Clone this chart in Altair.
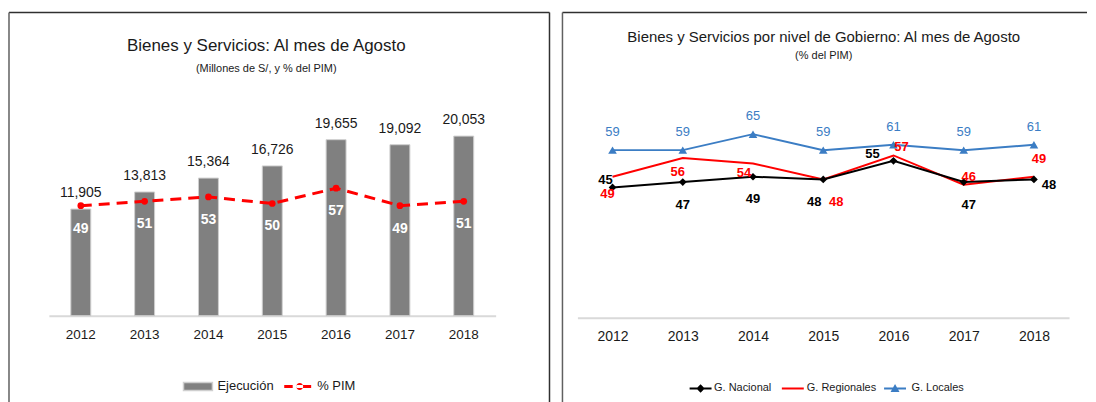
import altair as alt
import pandas as pd

# ---------------- data ----------------
years = ["2012", "2013", "2014", "2015", "2016", "2017", "2018"]
ejecucion = [11905, 13813, 15364, 16726, 19655, 19092, 20053]
pct_pim = [49, 51, 53, 50, 57, 49, 51]

g_nacional = [45, 47, 49, 48, 55, 47, 48]
g_regionales = [49, 56, 54, 48, 57, 46, 49]
g_locales = [59, 59, 65, 59, 61, 59, 61]

left_title = "Bienes y Servicios: Al mes de Agosto"
left_subtitle = "(Millones de S/, y % del PIM)"
right_title = "Bienes y Servicios por nivel de Gobierno: Al mes de Agosto"
right_subtitle = "(% del PIM)"
left_series = ["Ejecución", "% PIM"]
right_series = ["G. Nacional", "G. Regionales", "G. Locales"]

# ---------------- style ----------------
FONT_N = "Liberation Sans Narrow, Arial Narrow, Liberation Sans, sans-serif"
FONT = "Liberation Sans, Arial, sans-serif"
TXT = "#1a1a1a"
FRAME = "#303030"
GRAY = "#808080"
RED = "#ff0000"
BLUE = "#3b7dc4"
BLACK = "#000000"

W1, W2, H = 542, 526, 391

# left panel pixel geometry
L_ZERO, L_PX = 304.0, 0.00898      # bars
P_ZERO, P_PX = 301.0, 2.19         # % PIM
L_AXIS = 304
# right panel pixel geometry
R_ZERO, R_PX = 295.5, 2.67
R_AXIS = 306

dom_ejec = [-(H - L_ZERO) / L_PX, L_ZERO / L_PX]
dom_pim = [-(H - P_ZERO) / P_PX, P_ZERO / P_PX]
dom_r = [-(H - R_ZERO) / R_PX, R_ZERO / R_PX]

df1 = pd.DataFrame({"year": years, "ejec": ejecucion, "pim": pct_pim})
df2 = pd.DataFrame({
    "year": years * 3,
    "serie": [right_series[0]] * 7 + [right_series[1]] * 7 + [right_series[2]] * 7,
    "value": g_nacional + g_regionales + g_locales,
})
frame_df = pd.DataFrame({"k": [0]})


def frame_rules(w, h, right_edge):
    fr = alt.Chart(frame_df)
    parts = [
        fr.mark_rule(color=FRAME, strokeWidth=1.5).encode(
            x=alt.value(0), x2=alt.value(w), y=alt.value(0)),
        fr.mark_rule(color="#606060", strokeWidth=1.5).encode(
            x=alt.value(0), y=alt.value(0), y2=alt.value(h)),
    ]
    if right_edge:
        parts.append(fr.mark_rule(color=FRAME, strokeWidth=1.5).encode(
            x=alt.value(w), y=alt.value(0), y2=alt.value(h)))
    return parts


def xenc(rng, offset, font, size, pad):
    return alt.X(
        "year:N",
        scale=alt.Scale(range=rng, paddingInner=0, paddingOuter=0),
        axis=alt.Axis(title=None, ticks=False, grid=False, domainColor="#d9d9d9",
                      domainWidth=2, labelFont=font, labelFontSize=size,
                      labelColor=TXT, labelPadding=pad, labelAngle=0, offset=offset),
    )


def single_legend(x, y, shape, offset):
    return alt.Legend(title=None, orient="none", legendX=x, legendY=y,
                      symbolType=shape, symbolSize=400, symbolOpacity=1,
                      labelFont=FONT_N, labelFontSize=13, labelColor=TXT,
                      labelOffset=offset, padding=0)


# ---------------- left panel ----------------
XL = xenc([40, 488], L_AXIS - H, FONT_N, 13.5, 12)
base1 = alt.Chart(df1)

P_BAR = "M-1.45,-0.4H1.45V0.4H-1.45Z"
P_PIM = ("M-1.35,-0.14H-0.5V0.14H-1.35Z M-0.15,-0.14H1.35V0.14H-0.15Z "
         "M-0.15,0A0.35,0.35 0 1,0 0.55,0A0.35,0.35 0 1,0 -0.15,0Z")

bars = base1.transform_calculate(serie="'Ejecución'").mark_bar(
    size=20, stroke="#cfcfcf", strokeWidth=1).encode(
    x=XL,
    y=alt.Y("ejec:Q", scale=alt.Scale(domain=dom_ejec, nice=False, zero=False), axis=None),
    color=alt.Color("serie:N", scale=alt.Scale(domain=[left_series[0]], range=[GRAY]),
                    legend=single_legend(178.5, 364, P_BAR, 8.5)),
)
bar_labels = base1.mark_text(dy=-16, baseline="middle", font=FONT_N, fontSize=14,
                             color=TXT).encode(
    x=XL,
    y=alt.Y("ejec:Q", scale=alt.Scale(domain=dom_ejec, nice=False, zero=False), axis=None),
    text=alt.Text("ejec:Q", format=","),
)
YP = alt.Y("pim:Q", scale=alt.Scale(domain=dom_pim, nice=False, zero=False), axis=None)
pim_line = base1.mark_line(color=RED, strokeWidth=3, strokeDash=[11, 7]).encode(x=XL, y=YP)
pim_pts = base1.transform_calculate(serie="'% PIM'").mark_point(
    filled=True, size=45, opacity=1).encode(
    x=XL, y=YP,
    color=alt.Color("serie:N", scale=alt.Scale(domain=[left_series[1]], range=[RED]),
                    legend=single_legend(278.5, 364, P_PIM, 8.5)),
)
pim_labels = base1.mark_text(dy=23, baseline="middle", font=FONT_N, fontSize=14,
                             fontWeight="bold", color="white").encode(
    x=XL, y=YP, text="pim:Q")

left = alt.layer(
    bars, bar_labels, pim_line, pim_pts, pim_labels, *frame_rules(W1, H, True)
).resolve_scale(y="independent", color="independent").properties(
    width=W1, height=H,
    title=alt.Title(left_title, subtitle=left_subtitle, font=FONT_N, fontSize=17,
                    fontWeight="normal", color=TXT, subtitleFont=FONT_N,
                    subtitleFontSize=11, subtitleColor=TXT, subtitlePadding=8,
                    offset=-63, dx=-13, anchor="middle", frame="group"),
)

# ---------------- right panel ----------------
XR = xenc([15, 508], R_AXIS - H, FONT, 14, 12)
YR = alt.Y("value:Q", scale=alt.Scale(domain=dom_r, nice=False, zero=False), axis=None)
base2 = alt.Chart(df2)

P_NAC = "M-1.1,-0.1H1.1V0.1H-1.1Z M0,-0.42L0.42,0L0,0.42L-0.42,0Z"
P_REG = "M-1.1,0H1.1"
P_LOC = "M-1.1,-0.1H1.1V0.1H-1.1Z M0,-0.45L0.45,0.35L-0.45,0.35Z"


def sel(s):
    return base2.transform_filter(alt.datum.serie == s)


line_reg = sel(right_series[1]).mark_line(strokeWidth=2).encode(
    x=XR, y=YR,
    color=alt.Color("serie:N", scale=alt.Scale(domain=[right_series[1]], range=[RED]),
                    legend=alt.Legend(title=None, orient="none", legendX=220, legendY=366,
                                      symbolType=P_REG, symbolSize=400, symbolStrokeWidth=2,
                                      labelFont=FONT_N, labelFontSize=11, labelColor=TXT,
                                      labelOffset=3, padding=0)),
)
line_nac = sel(right_series[0]).mark_line(strokeWidth=2, color=BLACK).encode(x=XR, y=YR)
line_loc = sel(right_series[2]).mark_line(strokeWidth=2, color=BLUE).encode(x=XR, y=YR)


def rlegend(x, shape, off):
    return alt.Legend(title=None, orient="none", legendX=x, legendY=366,
                      symbolType=shape, symbolSize=400, symbolOpacity=1,
                      labelFont=FONT_N, labelFontSize=11, labelColor=TXT,
                      labelOffset=off, padding=0)


pts_nac = sel(right_series[0]).mark_point(filled=True, shape="diamond", size=60,
                                          opacity=1).encode(
    x=XR, y=YR,
    color=alt.Color("serie:N", scale=alt.Scale(domain=[right_series[0]], range=[BLACK]),
                    legend=rlegend(127.5, P_NAC, 2.5)),
)
pts_loc = sel(right_series[2]).mark_point(filled=True, shape="triangle-up", size=75,
                                          opacity=1).encode(
    x=XR, y=YR,
    color=alt.Color("serie:N", scale=alt.Scale(domain=[right_series[2]], range=[BLUE]),
                    legend=rlegend(322.5, P_LOC, 5.5)),
)

# label nudges (dx, dy) per series / year
nudges = {
    right_series[0]: [(-7, -7), (0, 23), (0, 22), (-9, 23), (-21, -7), (5, 23), (15, 6)],
    right_series[1]: [(-5, 17), (-5, 14), (-9, 10), (13, 23), (8, -8), (5, -8), (5, -18)],
    right_series[2]: [(0, -18)] * 7,
}
label_style = {
    right_series[0]: dict(color=BLACK, fontWeight="bold"),
    right_series[1]: dict(color=RED, fontWeight="bold"),
    right_series[2]: dict(color=BLUE, fontWeight="normal"),
}
label_layers = []
for s in right_series:
    for yr, (dx, dy) in zip(years, nudges[s]):
        label_layers.append(
            base2.transform_filter((alt.datum.serie == s) & (alt.datum.year == yr))
            .mark_text(dx=dx, dy=dy, baseline="middle", font=FONT_N, fontSize=13,
                       **label_style[s])
            .encode(x=XR, y=YR, text="value:Q")
        )

right = alt.layer(
    line_reg, line_nac, line_loc, pts_nac, pts_loc, *label_layers,
    *frame_rules(W2, H, False)
).resolve_scale(color="independent").properties(
    width=W2, height=H,
    title=alt.Title(right_title, subtitle=right_subtitle, font=FONT_N, fontSize=15,
                    fontWeight="normal", color=TXT, subtitleFont=FONT_N,
                    subtitleFontSize=11, subtitleColor=TXT, subtitlePadding=5,
                    offset=-49, dx=-1, anchor="middle", frame="group"),
)

chart = alt.hconcat(left, right, spacing=11).properties(
    padding={"left": 0, "top": 3, "right": 0, "bottom": 0},
    background="white",
).configure_view(stroke=None)

chart.save("out.html", embed_options={"renderer": "svg", "actions": False})
